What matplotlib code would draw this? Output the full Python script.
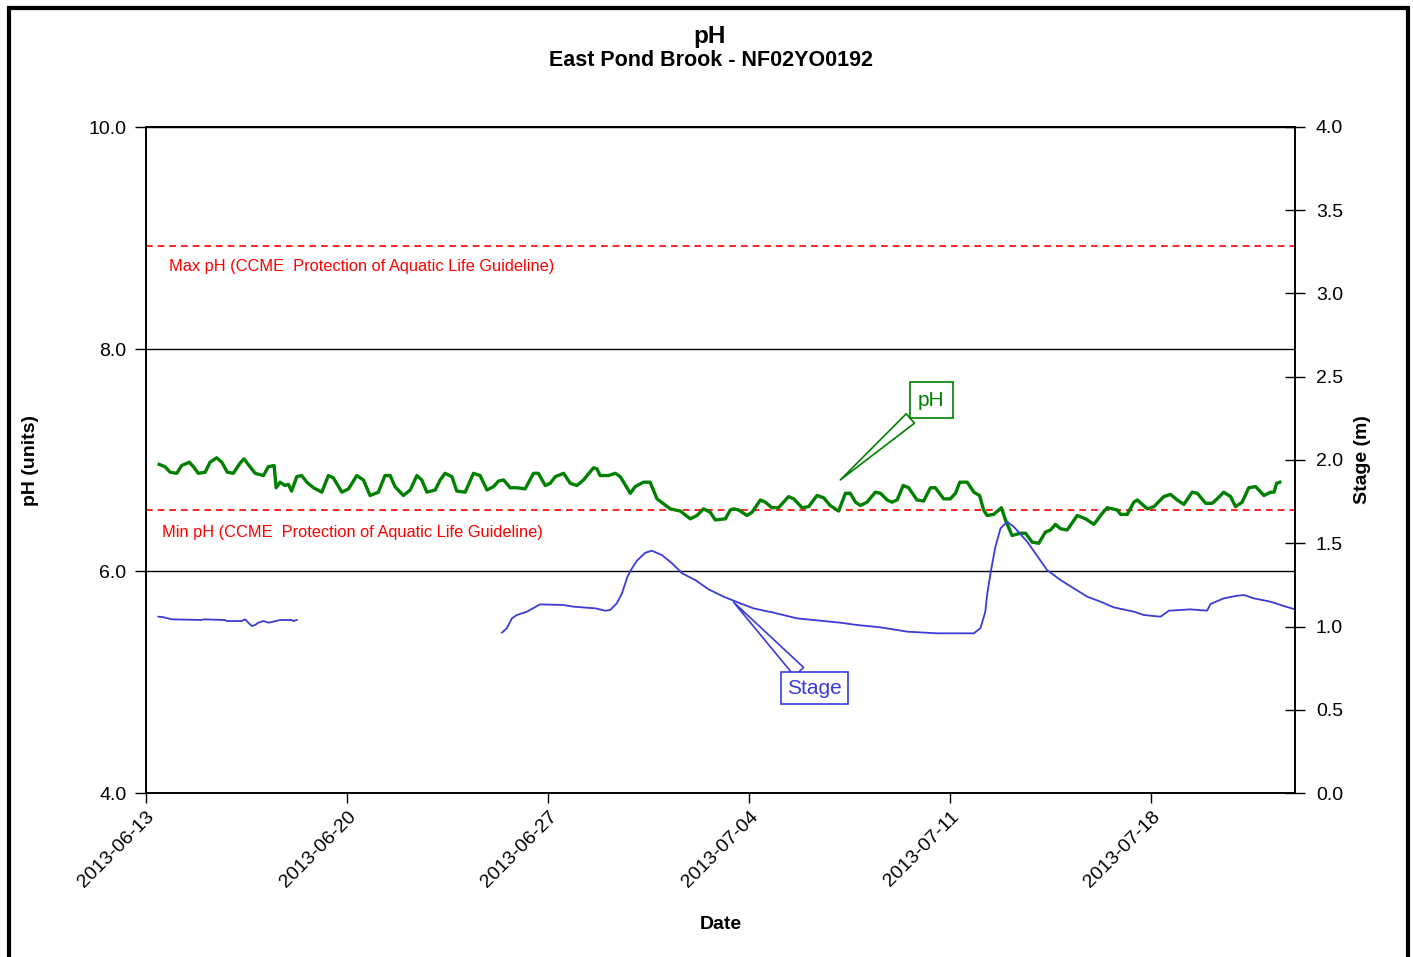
import numpy as np
import matplotlib
matplotlib.use("Agg")
import matplotlib.pyplot as plt
import matplotlib.dates as mdates
from matplotlib.patches import Rectangle

plt.rcParams['font.family'] = ['Liberation Sans', 'DejaVu Sans']

# ---------------- data (days since 2013-06-13 00:00) ----------------
start_date = np.datetime64('2013-06-13T00:00')

ph_days = [0.46, 0.66, 0.84, 1.07, 1.24, 1.51, 1.65, 1.82, 2.06, 2.23, 2.46, 2.64, 2.83, 3.04,
           3.27, 3.41, 3.56, 3.80, 4.09, 4.26, 4.46, 4.53, 4.67, 4.84, 4.96, 5.07, 5.25, 5.42,
           5.60, 5.83, 6.12, 6.35, 6.52, 6.82, 7.05, 7.34, 7.57, 7.80, 8.09, 8.32, 8.50, 8.67,
           8.96, 9.20, 9.43, 9.60, 9.78, 10.07, 10.24, 10.41, 10.65, 10.82, 11.11, 11.40, 11.63,
           11.87, 12.10, 12.27, 12.45, 12.68, 12.91, 13.20, 13.49, 13.66, 13.90, 14.07, 14.25,
           14.54, 14.77, 15.00, 15.23, 15.58, 15.70, 15.81, 16.10, 16.34, 16.51, 16.86, 17.03,
           17.32, 17.55, 17.79, 18.25, 18.60, 18.95, 19.18, 19.41, 19.64, 19.82, 20.17, 20.34,
           20.46, 20.63, 20.92, 21.10, 21.39, 21.56, 21.79, 22.02, 22.37, 22.55, 22.84, 23.07,
           23.36, 23.59, 23.82, 24.11, 24.35, 24.52, 24.70, 24.87, 25.10, 25.39, 25.57, 25.80,
           25.97, 26.15, 26.36, 26.55, 26.84, 27.07, 27.31, 27.48, 27.77, 28.00, 28.18, 28.33,
           28.59, 28.82, 29.02, 29.16, 29.28, 29.51, 29.78, 29.92, 30.15, 30.44, 30.62, 30.85,
           31.08, 31.31, 31.49, 31.66, 31.84, 32.07, 32.42, 32.71, 33.00, 33.29, 33.46, 33.81,
           33.93, 34.16, 34.39, 34.51, 34.86, 35.09, 35.43, 35.67, 35.90, 36.13, 36.42, 36.60,
           36.89, 37.12, 37.29, 37.52, 37.76, 37.93, 38.16, 38.39, 38.63, 38.92, 39.15, 39.27,
           39.36, 39.47]
ph_values = [6.96, 6.94, 6.89, 6.88, 6.95, 6.98, 6.94, 6.88, 6.89, 6.98, 7.02, 6.98, 6.89, 6.88,
             6.97, 7.01, 6.96, 6.88, 6.86, 6.94, 6.95, 6.75, 6.80, 6.77, 6.78, 6.72, 6.85, 6.86,
             6.80, 6.75, 6.71, 6.86, 6.84, 6.71, 6.74, 6.86, 6.82, 6.68, 6.71, 6.86, 6.86, 6.76,
             6.68, 6.73, 6.86, 6.82, 6.71, 6.73, 6.82, 6.88, 6.85, 6.72, 6.71, 6.88, 6.86,
             6.73, 6.76, 6.81, 6.82, 6.75, 6.75, 6.74, 6.88, 6.88, 6.77, 6.79, 6.85,
             6.88, 6.79, 6.77, 6.82, 6.93, 6.92, 6.86, 6.86, 6.88, 6.85, 6.70, 6.76,
             6.80, 6.80, 6.65, 6.56, 6.54, 6.47, 6.50, 6.56, 6.53, 6.46, 6.47, 6.55,
             6.56, 6.55, 6.50, 6.53, 6.64, 6.62, 6.57, 6.57, 6.67, 6.65, 6.57, 6.58,
             6.68, 6.66, 6.59, 6.54, 6.70, 6.70, 6.62, 6.59, 6.62, 6.71, 6.70, 6.64,
             6.62, 6.64, 6.77, 6.75, 6.64, 6.63, 6.75, 6.75, 6.65, 6.65, 6.70, 6.80,
             6.80, 6.71, 6.68, 6.55, 6.50, 6.51, 6.57, 6.46, 6.32, 6.34, 6.34, 6.26,
             6.25, 6.35, 6.37, 6.42, 6.38, 6.37, 6.50, 6.47, 6.42, 6.52, 6.57, 6.55,
             6.51, 6.51, 6.62, 6.64, 6.56, 6.58, 6.67, 6.69, 6.64, 6.60, 6.71, 6.70,
             6.61, 6.61, 6.65, 6.71, 6.67, 6.58, 6.62, 6.75, 6.76, 6.68, 6.71, 6.71,
             6.79, 6.80]

stage1_days = [0.43, 0.60, 0.90, 1.94, 2.00, 2.75, 2.81, 3.33, 3.45, 3.68, 3.80, 3.91, 4.09,
               4.26, 4.43, 4.67, 5.07, 5.13, 5.25]
stage1_values = [1.059, 1.056, 1.043, 1.039, 1.043, 1.039, 1.033, 1.033, 1.043, 1.003, 1.009,
                 1.023, 1.033, 1.023, 1.029, 1.039, 1.039, 1.033, 1.039]

stage2_days = [12.39, 12.56, 12.74, 12.91, 13.26, 13.72, 14.54, 14.88, 15.64, 15.99, 16.16,
               16.39, 16.57, 16.76, 16.92, 17.09, 17.38, 17.61, 17.96, 18.31, 18.66, 19.12,
               19.59, 20.11, 20.69, 21.15, 21.85, 22.66, 23.01, 24.17, 24.75, 25.57, 26.15,
               26.50, 27.54, 28.82, 29.05, 29.22, 29.28, 29.42, 29.57, 29.75, 29.98, 30.21,
               30.68, 31.37, 31.84, 32.30, 32.77, 33.23, 33.69, 34.39, 34.74, 35.32, 35.61,
               36.36, 36.94, 37.06, 37.52, 37.99, 38.22, 38.57, 39.15, 39.61, 39.96]
stage2_values = [0.963, 0.989, 1.049, 1.069, 1.089, 1.133, 1.129, 1.119, 1.109, 1.095, 1.099,
                 1.139, 1.199, 1.299, 1.350, 1.395, 1.443, 1.455, 1.429, 1.380, 1.320, 1.279,
                 1.223, 1.179, 1.139, 1.109, 1.083, 1.049, 1.043, 1.023, 1.009, 0.995, 0.979,
                 0.969, 0.959, 0.959, 0.990, 1.089, 1.189, 1.339, 1.479, 1.590, 1.629, 1.599,
                 1.509, 1.339, 1.279, 1.229, 1.179, 1.149, 1.115, 1.089, 1.069, 1.059, 1.095,
                 1.103, 1.095, 1.135, 1.169, 1.185, 1.189, 1.169, 1.149, 1.123, 1.105]

ph_max_guideline = 8.93
ph_min_guideline = 6.55

xtick_labels = ['2013-06-13', '2013-06-20', '2013-06-27', '2013-07-04', '2013-07-11', '2013-07-18']
x_end_date = '2013-07-23'
ph_ticks = [4.0, 6.0, 8.0, 10.0]
stage_ticks = [0.0, 0.5, 1.0, 1.5, 2.0, 2.5, 3.0, 3.5, 4.0]


def to_dates(days):
    return start_date + (np.array(days) * 24 * 60).astype('timedelta64[m]')


# ---------------- figure ----------------
fig = plt.figure(figsize=(14.13, 9.57), dpi=100)
ax = fig.add_axes([146 / 1413, 164 / 957, (1295 - 146) / 1413, (793 - 127) / 957])
ax2 = ax.twinx()

green = '#008000'
blue = '#3b3bd6'
red = '#ff0000'

ax.plot(to_dates(ph_days), ph_values, color=green, lw=2.4, solid_joinstyle='round', zorder=3)
ax.axhline(ph_max_guideline, color=red, lw=1.2, ls=(0, (4, 3)), zorder=2)
ax.axhline(ph_min_guideline, color=red, lw=1.2, ls=(0, (4, 3)), zorder=2)

ax2.plot(to_dates(stage1_days), stage1_values, color=blue, lw=1.3)
ax2.plot(to_dates(stage2_days), stage2_values, color=blue, lw=1.3)

xmin = np.datetime64(xtick_labels[0])
xmax = np.datetime64(x_end_date)
ax.set_xlim(mdates.date2num(xmin), mdates.date2num(xmax))
ax.set_ylim(4, 10)
ax2.set_ylim(0, 4)

ax.set_xticks([mdates.date2num(np.datetime64(d)) for d in xtick_labels])
ax.set_xticklabels(xtick_labels, rotation=45, ha='right', rotation_mode='anchor', fontsize=14)
ax.set_yticks(ph_ticks)
ax.set_yticklabels([f'{v:.1f}' for v in ph_ticks], fontsize=14)
ax2.set_yticks(stage_ticks)
ax2.set_yticklabels([f'{v:.1f}' for v in stage_ticks], fontsize=14)

ax.tick_params(axis='x', direction='out', length=7, width=1, pad=4)
ax.tick_params(axis='y', direction='out', length=8, width=1, pad=6)
ax2.tick_params(axis='y', direction='inout', length=14, width=1, pad=8)

ax.yaxis.grid(True, color='black', lw=1)
ax.set_axisbelow(True)
for sp in list(ax.spines.values()) + list(ax2.spines.values()):
    sp.set_color('black')
    sp.set_linewidth(1.2)

ax.set_xlabel('Date', fontsize=14, fontweight='bold', labelpad=18)
ax.set_ylabel('pH (units)', fontsize=14, fontweight='bold', labelpad=36)
ax2.set_ylabel('Stage (m)', fontsize=14, fontweight='bold', labelpad=8)

# guideline labels
d0 = mdates.date2num(xmin)
ax.text(d0 + 0.8, 8.74, 'Max pH (CCME  Protection of Aquatic Life Guideline)',
        color=red, fontsize=11.8, va='center', ha='left')
ax.text(d0 + 0.56, 6.35, 'Min pH (CCME  Protection of Aquatic Life Guideline)',
        color=red, fontsize=11.8, va='center', ha='left')

# callouts
ax.annotate('pH', xy=(d0 + 24.17, 6.82), xytext=(d0 + 27.34, 7.54),
            color=green, fontsize=15, ha='center', va='center',
            bbox=dict(boxstyle='square,pad=0.4', fc='white', ec=green, lw=1.2),
            arrowprops=dict(arrowstyle='wedge,tail_width=0.6', fc='white', ec=green, lw=1.2,
                            shrinkA=0, shrinkB=0),
            zorder=5)
ax2.annotate('Stage', xy=(d0 + 20.45, 1.147), xytext=(d0 + 23.27, 0.63),
             color=blue, fontsize=15, ha='center', va='center',
             bbox=dict(boxstyle='square,pad=0.3', fc='white', ec=blue, lw=1.2),
             arrowprops=dict(arrowstyle='wedge,tail_width=0.6', fc='white', ec=blue, lw=1.2,
                             shrinkA=0, shrinkB=0),
             zorder=5)

# titles
fig.text(710 / 1413, 1 - 36 / 957, 'pH', ha='center', va='center', fontsize=17.5, fontweight='bold')
fig.text(711 / 1413, 1 - 61 / 957, 'East Pond Brook - NF02YO0192', ha='center', va='center',
         fontsize=15.5, fontweight='bold')

# outer frame
fig.patches.append(Rectangle((8.5 / 1413, -0.02), (1408 - 8.5) / 1413, 1.02 - 8.5 / 957,
                             transform=fig.transFigure, fill=False, ec='black', lw=3))

fig.savefig('out.png', dpi=100)
